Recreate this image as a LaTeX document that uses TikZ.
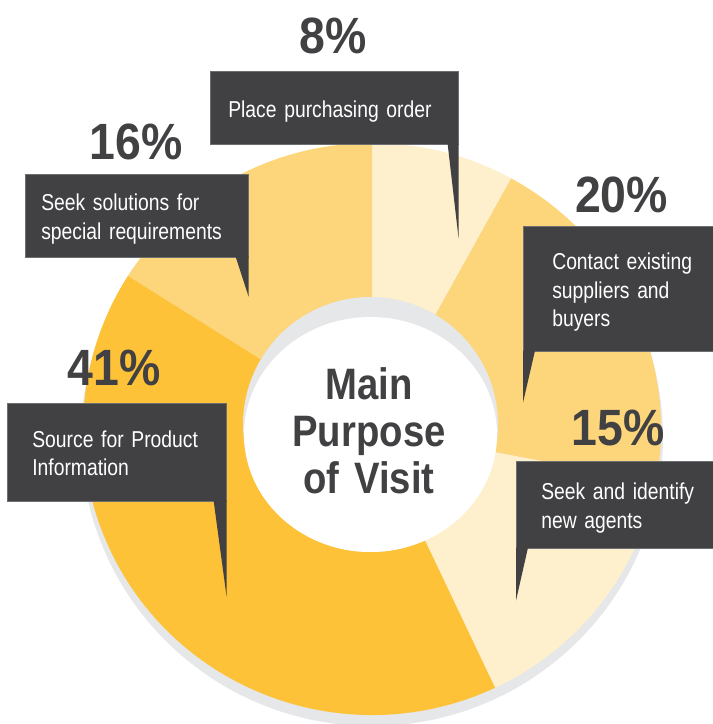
\documentclass[tikz,border=0pt]{standalone}
\usepackage{fontspec}
\setmainfont{Liberation Sans}
\newfontfamily\calloutfont{Liberation Sans}[FakeStretch=0.84, WordSpace=0.84]
\newfontfamily\figurefont{Liberation Sans}[FakeStretch=0.91, WordSpace=0.91]
\newfontfamily\titlefont{Liberation Sans}[FakeStretch=0.87, WordSpace=0.87]
\usetikzlibrary{calc}
\definecolor{boxgrey}{HTML}{414042}
\definecolor{boxline}{HTML}{6D6E71}
\definecolor{ringgrey}{HTML}{E6E7E8}
\definecolor{deepyellow}{HTML}{FDC238}
\definecolor{midyellow}{HTML}{FDD57A}
\definecolor{paleyellow}{HTML}{FEF0CC}
\newcommand{\topstrut}{\rule{0pt}{24.6pt}}
\newcommand{\botstrut}{\rule[-6pt]{0pt}{6pt}}
\hyphenpenalty=10000
\exhyphenpenalty=10000

\begin{document}
\begin{tikzpicture}[x=1pt, y=-1pt,
    callout/.style={fill=boxgrey, draw=boxline, line width=0.6pt, text=white, anchor=north west,
                    inner ysep=0pt, align=left, font=\calloutfont\fontsize{23}{28.5}\selectfont},
    pct/.style={anchor=base, text=boxgrey, inner sep=0pt, font=\figurefont\bfseries\fontsize{51}{51}\selectfont},
    tail/.style={fill=boxgrey}]
  \clip (0,0) rectangle (713,724);
  \coordinate (hub) at (372,429);
  \fill[ringgrey] ($(hub)+(0,8)$) ellipse[x radius=291, y radius=289];
  \foreach \a/\b/\c in {-90/-61.2/paleyellow, -61.2/10.8/midyellow, 10.8/64.8/paleyellow,
                        64.8/212.4/deepyellow, 212.4/270/midyellow}
    \fill[\c] (hub) -- ++(\a:289 and 286) arc[start angle=\a, end angle=\b, x radius=289, y radius=286] -- cycle;
  \fill[ringgrey] (370.5,424.5) circle[radius=127.5];
  \fill[white] (370.5,434.5) ellipse[x radius=126.5, y radius=117.5];
  \node[anchor=north, inner sep=0pt, text width=220pt, align=center, text=boxgrey,
        font=\titlefont\bfseries\fontsize{44}{47}\selectfont] (purpose) at (369,359)
        {\rule{0pt}{40pt}Main\\Purpose\\of Visit};

  \node[callout, text width=212pt, inner xsep=18pt, minimum height=73pt] (order) at (210,71)
        {\topstrut Place purchasing order\botstrut};
  \node[callout, text width=191pt, inner xsep=16pt, minimum height=83pt] (solutions) at (25,174)
        {\topstrut Seek solutions for\\\mbox{special requirements}\botstrut};
  \node[callout, text width=159pt, inner xsep=29pt, minimum height=125pt] (contact) at (523,226)
        {\topstrut Contact existing\\suppliers and\\buyers\botstrut};
  \node[callout, text width=169pt, inner xsep=25pt, minimum height=98pt] (source) at (7,403)
        {\topstrut\mbox{Source for Product}\\Information\botstrut};
  \node[callout, text width=174pt, inner xsep=25pt, minimum height=87pt] (agents) at (516,461)
        {\topstrut Seek and identify\\new agents\botstrut};

  \fill[tail] ($(order.south east)+(-11,-1)$) -- ($(order.south east)+(0,94)$) -- ($(order.south east)+(0,-1)$) -- cycle;
  \fill[tail] ($(solutions.south east)+(-13,-1)$) -- ($(solutions.south east)+(0,39)$) -- ($(solutions.south east)+(0,-1)$) -- cycle;
  \fill[tail] ($(contact.south west)+(0,-1)$) -- ($(contact.south west)+(0,51)$) -- ($(contact.south west)+(12,-1)$) -- cycle;
  \fill[tail] ($(source.south east)+(-13,-1)$) -- ($(source.south east)+(0,95)$) -- ($(source.south east)+(0,-1)$) -- cycle;
  \fill[tail] ($(agents.south west)+(0,-1)$) -- ($(agents.south west)+(0,52)$) -- ($(agents.south west)+(12,-1)$) -- cycle;

  \node[pct] (p8) at (333.5,53) {8\%};
  \node[pct] (p16) at (136,159) {16\%};
  \node[pct] (p20) at (621.5,212) {20\%};
  \node[pct] (p41) at (114,385) {41\%};
  \node[pct] (p15) at (618,445) {15\%};
\end{tikzpicture}
\end{document}
